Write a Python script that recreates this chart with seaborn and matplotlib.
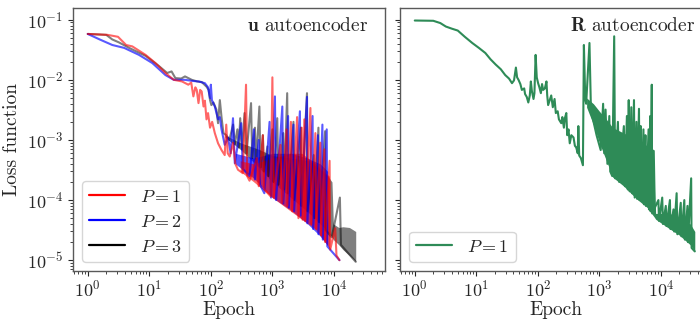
import matplotlib
matplotlib.use("Agg")
import matplotlib.pyplot as plt
import seaborn as sns

# ---- u autoencoder, P = 1 (red) ----
red_epoch = [1, 2.1, 3.1, 4.2, 5.3, 8.7, 12.6, 18.3, 25, 34, 43, 48, 52, 56, 59, 63, 67, 71, 76, 80,
             85, 90, 97, 105, 116, 131, 149, 168, 178, 188, 203, 230, 250, 276, 330, 373, 390, 425,
             560, 600, 700, 740, 940, 1000, 1050, 1350, 1450, 1700, 1750, 2000, 2100, 2520, 2650,
             3000, 3100, 3300, 3400, 4150, 4300, 5000, 5150, 6000, 6200, 7000, 7200, 8500, 8700,
             10500, 11000, 12300]
red_loss = [0.058, 0.056, 0.052, 0.038, 0.036, 0.026, 0.019, 0.013, 0.010, 0.0094, 0.0083, 0.0090, 0.0053,
            0.0075, 0.0068, 0.0041, 0.0068, 0.0064, 0.0036, 0.0045, 0.0022, 0.0028, 0.0016, 0.0020, 0.0013,
            0.00088, 0.00068, 0.00056, 0.0018, 0.00060, 0.00053, 0.0009, 0.00040, 0.00032, 0.00028, 0.0083,
            0.00025, 0.00021, 5e-4, 1.7e-4, 1.2e-3, 1.5e-4, 1.15e-4, 0.011, 1.1e-4, 8.3e-4, 9e-5, 1.5e-3,
            8e-5, 2e-3, 6.5e-5, 2.4e-3, 5e-5, 1.6e-3, 4.7e-5, 2.2e-3, 4.5e-5, 3.4e-3, 4e-5, 1.3e-3, 3.3e-5,
            9e-4, 2.6e-5, 7e-4, 2e-5, 4.5e-4, 1.5e-5, 3.4e-5, 1.2e-5, 1e-5]
red_band_epoch = [300, 500, 1000, 2000, 3000, 5000, 8400, 8600]
red_band_lo = [3.0e-4, 2.0e-4, 1.1e-4, 6.5e-5, 4.8e-5, 3.3e-5, 1.6e-5, 1.5e-5]
red_band_hi = [4.5e-4, 4.0e-4, 5.0e-4, 6.0e-4, 6.0e-4, 4.0e-4, 2.5e-4, 1.5e-5]

# ---- u autoencoder, P = 2 (blue) ----
blue_epoch = [1, 1.56, 2.5, 3.9, 6.8, 11.2, 18.3, 25, 38, 50, 63, 80, 90, 97, 100, 104, 116, 131, 140,
              149, 168, 190, 210, 229, 245, 311, 330, 425, 500, 520, 600, 630, 740, 900, 950, 1100,
              1150, 1450, 1500, 1800, 1850, 2200, 2250, 2800, 2900, 3650, 3700, 4500, 4600, 5500,
              5600, 6500, 6600, 7640, 7800, 12300]
blue_loss = [0.058, 0.047, 0.038, 0.034, 0.026, 0.019, 0.012, 0.010, 0.010, 0.0096, 0.0094, 0.0088, 0.0075,
             0.0050, 0.0083, 0.0046, 0.0036, 0.0022, 0.0024, 0.0015, 0.00083, 0.0011, 0.0006, 0.0023,
             0.00041, 0.0019, 0.00033, 2.5e-4, 1.5e-3, 2.2e-4, 1e-3, 1.8e-4, 1.3e-4, 2e-3, 1.1e-4, 5.3e-3,
             1e-4, 3.6e-3, 8.8e-5, 2.5e-3, 7.5e-5, 1.8e-3, 6.5e-5, 3e-3, 5.5e-5, 5.2e-3, 4.1e-5, 2.5e-3,
             3.3e-5, 1.2e-3, 2.7e-5, 1.8e-3, 2.2e-5, 1.5e-3, 1.7e-5, 1e-5]
blue_band_epoch = [250, 500, 1000, 2000, 3650, 6000, 7900, 8000]
blue_band_lo = [4.0e-4, 2.3e-4, 1.1e-4, 6.8e-5, 4.1e-5, 2.5e-5, 1.75e-5, 1.7e-5]
blue_band_hi = [6.0e-4, 5.0e-4, 6.0e-4, 6.0e-4, 5.0e-4, 4.0e-4, 3.0e-4, 1.7e-5]

# ---- u autoencoder, P = 3 (black) ----
black_epoch = [1, 2.0, 2.5, 3.2, 4.7, 8.7, 14.3, 19.5, 23, 26.5, 33, 38, 49, 60, 71, 85, 92, 97, 102, 110,
               123, 131, 140, 149, 160, 178, 200, 230, 245, 270, 285, 300, 320, 353, 380, 450, 470, 520,
               545, 615, 640, 700, 730, 830, 860, 1000, 1040, 1200, 1250, 1500, 1550, 1740, 1800, 2200,
               2250, 2900, 2950, 3650, 3700, 4700, 4800, 5600, 5700, 7200, 7300, 9200, 12500, 13000, 22600]
black_loss = [0.058, 0.056, 0.047, 0.042, 0.034, 0.025, 0.017, 0.013, 0.0138, 0.0107, 0.0105, 0.0114, 0.010,
              0.0094, 0.0092, 0.0077, 0.0068, 0.0046, 0.0038, 0.0042, 0.0032, 0.0019, 0.0046, 0.0024, 0.0013,
              1.2e-3, 1.0e-3, 1.8e-3, 8.5e-4, 1.5e-3, 7.5e-4, 2.3e-3, 7e-4, 2.8e-3, 6e-4, 4.1e-3, 5e-4,
              1.6e-3, 4.2e-4, 3.6e-3, 3.5e-4, 1.2e-3, 3e-4, 7.8e-4, 2.5e-4, 1.5e-3, 2e-4, 2.3e-3, 1.8e-4,
              1.3e-3, 1.5e-4, 6e-3, 1.3e-4, 2e-3, 1e-4, 1.6e-3, 8e-5, 6e-3, 6.5e-5, 5.6e-4, 5e-5, 1.6e-3,
              4.3e-5, 1.4e-3, 3.2e-5, 2.4e-5, 1.1e-4, 1.8e-5, 9.4e-6]
black_band_epoch = [170, 300, 600, 1000, 2000, 4000, 8000, 9300, 9800, 12000, 14000, 17800, 20500, 22600]
black_band_lo = [1.1e-3, 7e-4, 3.5e-4, 2e-4, 1.1e-4, 6e-5, 3e-5, 2.4e-5, 2.2e-5, 1.8e-5, 1.5e-5, 1.2e-5,
                 1.05e-5, 9.4e-6]
black_band_hi = [1.2e-3, 9e-4, 7e-4, 5.5e-4, 5e-4, 4.5e-4, 2.5e-4, 2e-4, 4e-5, 3.5e-5, 3.6e-5, 3.5e-5,
                 3.2e-5, 3e-5]

# ---- R autoencoder, P = 1 (green) ----
green_epoch = [1, 2, 2.6, 3.2, 4.0, 5.0, 6.5, 8.6, 11, 14, 17, 20.6, 25, 29.5, 34, 38, 41, 44, 46, 48.5,
               52, 55, 60, 62, 66, 70, 74, 77, 80, 85, 88, 92, 96, 101, 106, 112, 117, 122, 130, 138,
               142, 147, 155, 165, 175, 187, 196, 210, 220, 240, 250, 265, 275, 290, 300, 315, 330, 350,
               380, 400, 420, 445, 455, 470, 500, 540, 560, 590, 610, 690, 730, 780, 900, 1050, 1150,
               1200, 1260, 1350, 1450, 1500, 1620, 1740, 1800, 2000, 2100, 2500, 2600, 2800, 2900, 3000,
               3100, 3300, 3400, 3650, 3750, 4000, 4100, 4400, 4500, 4700, 4800, 5200, 5300, 5600, 5700,
               6300, 6400, 6700, 6800, 7100, 7200, 9100, 9300, 10500, 10800, 12000, 12300, 14000, 14300,
               16000, 16400, 18000, 18500, 21000, 21500, 24000, 24500, 27000, 27500, 31000, 31500, 35500]
green_loss = [0.097, 0.096, 0.088, 0.077, 0.071, 0.066, 0.052, 0.041, 0.034, 0.028, 0.022, 0.018, 0.015,
              0.012, 0.0105, 0.0088, 0.0098, 0.016, 0.011, 0.010, 0.0085, 0.0068, 0.0072, 0.0058, 0.0052,
              0.0042, 0.0055, 0.0094, 0.0065, 0.0048, 0.006, 0.026, 0.011, 0.0088, 0.0075, 0.006, 0.0085,
              0.0068, 0.0072, 0.0094, 0.0055, 0.0038, 0.0045, 0.0055, 0.0035, 0.0048, 0.0028, 0.003,
              0.0022, 0.0019, 0.0024, 0.0016, 0.0023, 0.0028, 0.0012, 0.0015, 0.00088, 0.0012, 0.0011,
              0.0008, 0.00075, 0.0006, 0.0017, 0.00055, 0.0005, 0.00038, 0.038, 0.0047, 0.004, 0.041,
              0.003, 0.0023, 0.0012, 0.00068, 0.004, 0.0006, 0.0032, 0.0004, 0.0025, 0.0003, 0.00025,
              0.053, 0.00023, 0.002, 0.0002, 0.0017, 0.00017, 0.0025, 0.00015, 0.0046, 0.00014, 0.0035,
              0.00013, 0.0046, 0.00011, 0.002, 0.000105, 0.0033, 0.0001, 0.0017, 0.0001, 0.0015, 0.000085,
              0.0012, 0.00008, 0.0015, 0.00007, 0.0025, 0.000065, 0.0083, 0.00006, 0.0001, 0.000045,
              0.00011, 0.00004, 0.00008, 0.000037, 0.0001, 0.000033, 0.00007, 0.00003, 0.00013, 0.000027,
              0.00009, 0.000025, 0.0001, 0.000022, 0.00008, 0.00002, 0.00023, 0.000016, 0.000014]
green_band_epoch = [620, 800, 1000, 1300, 1650, 2500, 4000, 6000, 7800, 8000, 8200, 14000, 20000, 30000, 35500]
green_band_lo = [3.5e-3, 1.8e-3, 9e-4, 4.5e-4, 2.4e-4, 1.7e-4, 1.05e-4, 7.5e-5, 5.2e-5, 5e-5, 4.8e-5,
                 3.3e-5, 2.6e-5, 1.8e-5, 1.4e-5]
green_band_hi = [5e-3, 4e-3, 3e-3, 2.2e-3, 1.6e-3, 1.3e-3, 1e-3, 8e-4, 6.8e-4, 1.6e-4, 6e-5, 6e-5, 5e-5,
                 4e-5, 3e-5]

sns.set_style("ticks")
plt.rcParams["font.family"] = "serif"
plt.rcParams["font.serif"] = ["cmr10", "DejaVu Serif"]
plt.rcParams["mathtext.fontset"] = "cm"
plt.rcParams["axes.formatter.use_mathtext"] = True
plt.rcParams["axes.edgecolor"] = "0.35"
plt.rcParams["axes.linewidth"] = 1.0
for a in ["xtick", "ytick"]:
    plt.rcParams[a + ".major.size"] = 3.5
    plt.rcParams[a + ".minor.size"] = 2
    plt.rcParams[a + ".major.width"] = 0.8
    plt.rcParams[a + ".minor.width"] = 0.6
    plt.rcParams[a + ".color"] = "0.15"
    plt.rcParams[a + ".labelsize"] = 13
plt.rcParams["xtick.major.pad"] = 2.0

fig = plt.figure(figsize=(7, 3.2), dpi=100)
ax1 = fig.add_axes([73 / 700, 49 / 320, 312 / 700, 263 / 320])
ax2 = fig.add_axes([400 / 700, 49 / 320, 312 / 700, 263 / 320])

# drawn P=3 first so the P=1 red ends up on top, like the reference
series = [
    (black_epoch, black_loss, black_band_epoch, black_band_lo, black_band_hi, "black", 0.5, r"$P=3$"),
    (blue_epoch, blue_loss, blue_band_epoch, blue_band_lo, blue_band_hi, "blue", 0.65, r"$P=2$"),
    (red_epoch, red_loss, red_band_epoch, red_band_lo, red_band_hi, "red", 0.6, r"$P=1$"),
]
for ep, loss, bep, blo, bhi, col, al, lab in series:
    sns.lineplot(x=ep, y=loss, ax=ax1, color=col, alpha=al, lw=1.5, label=lab,
                 estimator=None, sort=False)
    ax1.fill_between(bep, blo, bhi, color=col, alpha=al, lw=0)

sns.lineplot(x=green_epoch, y=green_loss, ax=ax2, color="seagreen", lw=1.5, label=r"$P=1$",
             estimator=None, sort=False)
ax2.fill_between(green_band_epoch, green_band_lo, green_band_hi, color="seagreen", lw=0)

for ax in (ax1, ax2):
    ax.set_xscale("log")
    ax.set_yscale("log")
    ax.set_xlim(10 ** -0.24, 10 ** 4.83)
    ax.set_ylim(10 ** -5.18, 10 ** -0.805)
    ax.set_xlabel("Epoch", fontsize=14, labelpad=1)
    ax.set_xticks([1, 10, 100, 1000, 10000])

ax1.set_ylabel("Loss function", fontsize=14)
ax2.tick_params(axis="y", labelleft=False, which="both")

ax1.text(0.945, 0.965, r"$\mathbf{u}$ autoencoder", transform=ax1.transAxes,
         ha="right", va="top", fontsize=14)
ax2.text(0.945, 0.965, r"$\mathbf{R}$ autoencoder", transform=ax2.transAxes,
         ha="right", va="top", fontsize=14)

h, l = ax1.get_legend_handles_labels()
leg = ax1.legend(h[::-1], l[::-1], loc="lower left", fontsize=13)
for lh in leg.get_lines():
    lh.set_alpha(1)
    lh.set_linewidth(1.6)
leg2 = ax2.legend(loc="lower left", fontsize=13)
for lh in leg2.get_lines():
    lh.set_linewidth(1.6)

fig.savefig("out.png", dpi=100)
